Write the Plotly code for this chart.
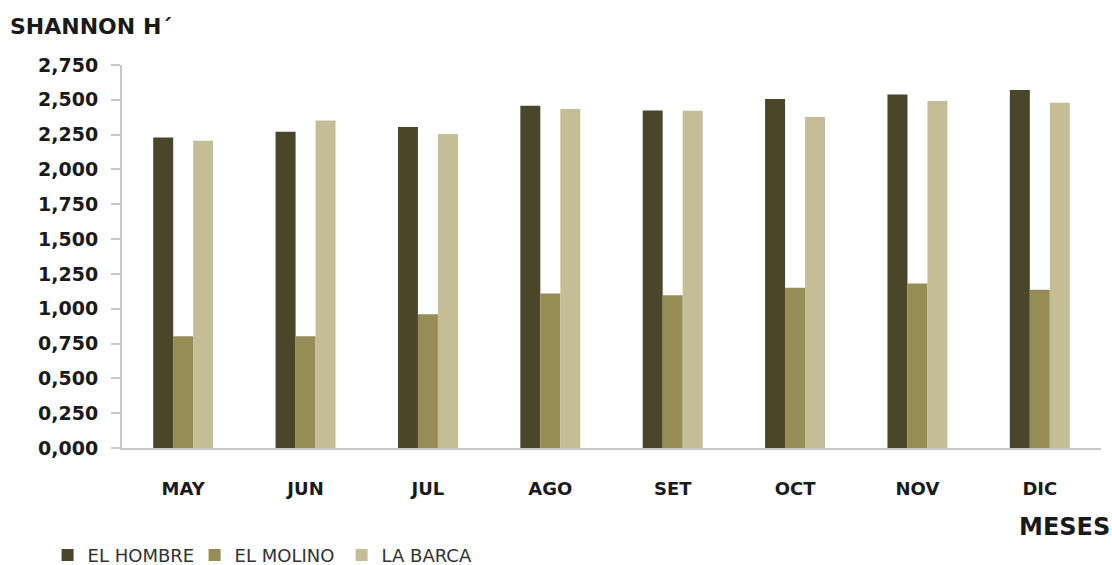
import plotly.graph_objects as go

# Índice de diversidad de Shannon H' por mes y estación
meses = ["MAY", "JUN", "JUL", "AGO", "SET", "OCT", "NOV", "DIC"]
el_hombre = [2.230, 2.271, 2.304, 2.457, 2.424, 2.505, 2.539, 2.570]
el_molino = [0.802, 0.802, 0.960, 1.110, 1.096, 1.151, 1.182, 1.136]
la_barca = [2.206, 2.352, 2.254, 2.434, 2.421, 2.376, 2.491, 2.479]
y_ticks = [0.0, 0.25, 0.5, 0.75, 1.0, 1.25, 1.5, 1.75, 2.0, 2.25, 2.5, 2.75]

series = [
    ("EL HOMBRE", el_hombre, "#4b4629"),
    ("EL MOLINO", el_molino, "#968c56"),
    ("LA BARCA", la_barca, "#c5bd95"),
]

fig = go.Figure()
for name, vals, color in series:
    fig.add_trace(go.Bar(
        x=meses, y=vals, name=name,
        marker=dict(color=color, line=dict(width=0)),
    ))

axis_grey = "#c8c8c8"
font_main = "DejaVu Sans"

fig.update_layout(
    width=1112, height=565,
    margin=dict(l=122, r=11, t=65, b=117, autoexpand=False),
    paper_bgcolor="white", plot_bgcolor="white",
    barmode="group", bargap=0.51, bargroupgap=0.0,
    separators=",.",
    font=dict(family=font_main, color="#1a1a1a"),
    showlegend=True,
    legend=dict(
        orientation="h", x=-0.076, xanchor="left", y=-0.28, yanchor="middle",
        font=dict(family=font_main, size=18, color="#333333"),
        entrywidth=102, entrywidthmode="pixels",
        itemwidth=30, traceorder="normal",
    ),
    xaxis=dict(
        showline=True, linecolor=axis_grey, linewidth=2,
        ticks="", showgrid=False, ticklabelstandoff=23,
        tickfont=dict(family=font_main, size=18, color="#1a1a1a", weight="bold"),
    ),
    yaxis=dict(
        range=[0, 2.75], tickvals=y_ticks, tickformat=".3f",
        showline=True, linecolor=axis_grey, linewidth=2,
        ticks="outside", ticklen=9, tickcolor=axis_grey, tickwidth=2,
        showgrid=False, zeroline=False, ticklabelstandoff=9,
        tickfont=dict(family=font_main, size=19, color="#1a1a1a", weight="bold"),
    ),
    annotations=[
        dict(text="SHANNON H´", xref="paper", yref="paper",
             x=-(122 - 8) / 979, y=1 + (65 - 27) / 383,
             xanchor="left", yanchor="middle", showarrow=False,
             font=dict(family=font_main, size=22, color="#1a1a1a", weight="bold")),
        dict(text="MESES", xref="paper", yref="paper",
             x=1 + (1112 - 1101) / 979, y=-(527 - 448) / 383,
             xanchor="right", yanchor="middle", showarrow=False,
             font=dict(family=font_main, size=24, color="#1a1a1a", weight="bold")),
    ],
)

fig.write_html("out.html")
